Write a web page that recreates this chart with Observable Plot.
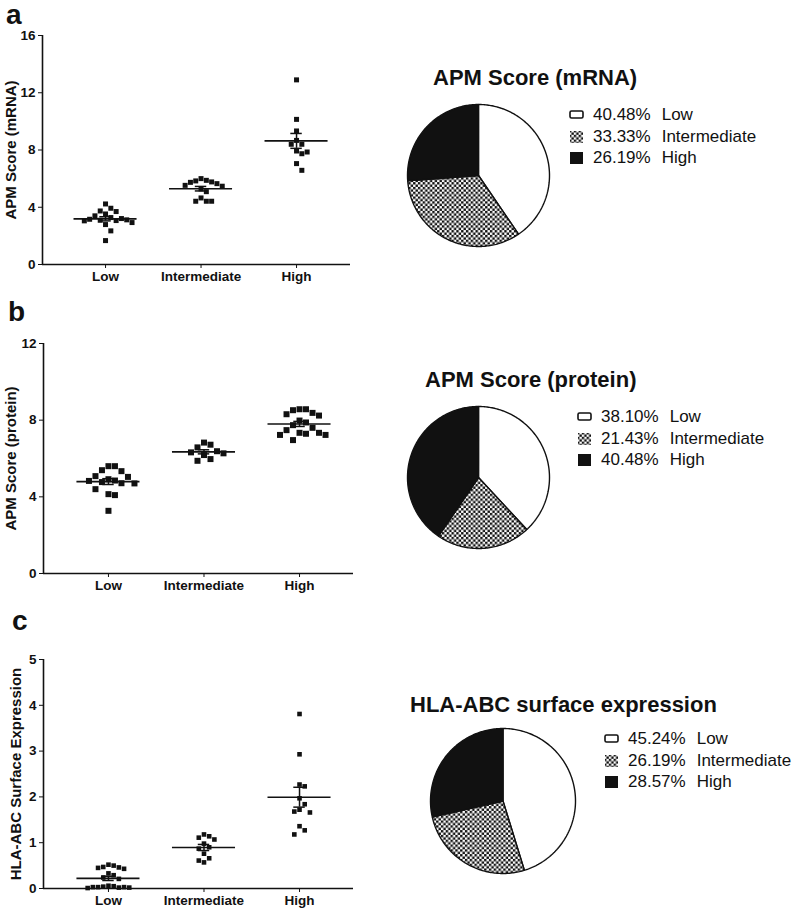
<!DOCTYPE html>
<html><head><meta charset="utf-8">
<script src="https://cdn.jsdelivr.net/npm/d3@7"></script>
<script src="https://cdn.jsdelivr.net/npm/@observablehq/plot@0.6"></script>
<style>
body{margin:0;background:#fff;}
#root{position:relative;width:800px;height:913px;overflow:hidden;font-family:'Liberation Sans',Arial,sans-serif;color:#111;}
.abs{position:absolute;}
.panel{font-weight:bold;font-size:28px;line-height:1;}
.ptitle{font-weight:bold;font-size:22px;line-height:1;white-space:nowrap;}
.leg{font-size:17px;white-space:nowrap;display:flex;align-items:center;height:21.5px;}
.leg .ic{width:24px;display:flex;align-items:center;}
.leg .lab{margin-left:11px;}
</style></head><body>
<svg width="0" height="0" style="position:absolute"><defs>
<pattern id="checker" patternUnits="userSpaceOnUse" width="4.8" height="4.8">
<rect width="4.8" height="4.8" fill="#fff"/><rect width="2.4" height="2.4" fill="#111"/><rect x="2.4" y="2.4" width="2.4" height="2.4" fill="#111"/>
</pattern></defs></svg>
<div id="root"></div>
<script>
// ---------- data ----------
const categories = ["Low", "Intermediate", "High"];

const mrnaLow  = [4.23, 3.93, 3.74, 3.70, 3.53, 3.40, 3.28, 3.21, 3.16, 3.12, 3.09, 3.07, 3.05, 2.93, 2.79, 2.35, 1.67];
const mrnaInt  = [6.00, 5.88, 5.84, 5.77, 5.74, 5.65, 5.53, 5.47, 5.28, 5.09, 4.65, 4.42, 4.42, 4.42];
const mrnaHigh = [12.90, 10.14, 9.33, 8.67, 8.40, 8.40, 7.93, 7.86, 7.74, 7.05, 6.58];

const protLow  = [5.60, 5.60, 5.39, 5.34, 5.08, 5.04, 4.92, 4.85, 4.83, 4.77, 4.71, 4.70, 4.40, 4.14, 4.09, 3.27];
const protInt  = [6.83, 6.72, 6.58, 6.38, 6.32, 6.27, 6.18, 5.97, 5.88];
const protHigh = [8.57, 8.57, 8.52, 8.38, 8.31, 8.24, 7.98, 7.88, 7.74, 7.60, 7.48, 7.34, 7.34, 7.29, 7.23, 7.23, 6.96];

const hlaLow  = [0.52, 0.50, 0.47, 0.46, 0.45, 0.43, 0.33, 0.29, 0.24, 0.21, 0.06, 0.05, 0.04, 0.03, 0.03, 0.03, 0.02, 0.02, 0.01];
const hlaInt  = [1.18, 1.14, 1.11, 1.07, 0.98, 0.90, 0.87, 0.76, 0.66, 0.61, 0.57];
const hlaHigh = [3.81, 2.93, 2.27, 2.23, 1.97, 1.84, 1.72, 1.68, 1.66, 1.36, 1.27, 1.18];

const mrnaTicks = [0, 4, 8, 12, 16];
const protTicks = [0, 4, 8, 12];
const hlaTicks  = [0, 1, 2, 3, 4, 5];

const mrnaPct = [40.48, 33.33, 26.19];
const protPct = [38.10, 21.43, 40.48];
const hlaPct  = [45.24, 26.19, 28.57];

const yLabels = ["APM Score (mRNA)", "APM Score (protein)", "HLA-ABC Surface Expression"];
const pieTitles = ["APM Score (mRNA)", "APM Score (protein)", "HLA-ABC surface expression"];
const panelLetters = ["a", "b", "c"];

// ---------- helpers ----------
const root = document.getElementById("root");
const sliceFills = ["#fff", "url(#checker)", "#111"];
const font = "'Liberation Sans', Arial, sans-serif";

function place(node, left, top) {
  const d = document.createElement("div");
  d.className = "abs";
  d.style.left = left + "px";
  d.style.top = top + "px";
  d.appendChild(node);
  root.appendChild(d);
  return d;
}

function swarm(vals, pxPerY, side, step, dyFactor) {
  const order = d3.range(vals.length).sort((a, b) => d3.descending(vals[a], vals[b]));
  const placed = [], off = new Array(vals.length);
  const dyMin = side * dyFactor;
  for (const i of order) {
    const py = vals[i] * pxPerY;
    for (let k = 0; ; k++) {
      const c = k === 0 ? 0 : (k % 2 ? 1 : -1) * Math.ceil(k / 2) * step;
      if (!placed.some(p => Math.abs(p.y - py) < dyMin && Math.abs(p.x - c) < step * 0.99)) {
        off[i] = c; placed.push({x: c, y: py}); break;
      }
    }
  }
  return off;
}

function scatter(groups, o) {
  const pxPerY = (o.height - o.mt - o.mb) / o.yMax;
  const pxPerX = (o.width - o.ml - o.mr) / (o.xDomain[1] - o.xDomain[0]);
  const pts = [], stats = [];
  groups.forEach((vals, ci) => {
    const off = swarm(vals, pxPerY, o.side, o.step, o.dy);
    vals.forEach((v, i) => pts.push({ci, v, xj: ci + off[i] / pxPerX}));
    const m = d3.mean(vals), s = d3.deviation(vals) / Math.sqrt(vals.length);
    stats.push({ci, m, lo: m - s, hi: m + s});
  });
  const r = o.side / Math.sqrt(Math.PI);
  const chart = Plot.plot({
    width: o.width, height: o.height,
    marginTop: o.mt, marginBottom: o.mb, marginLeft: o.ml, marginRight: o.mr,
    x: {domain: o.xDomain},
    y: {domain: [0, o.yMax]},
    style: {fontFamily: font, fontSize: "13.5px", fontWeight: "bold", color: "#111", background: "transparent", overflow: "visible"},
    marks: [
      Plot.dot(pts, {x: "xj", y: "v", symbol: "square", r, fill: "#111", stroke: "none"}),
      Plot.ruleY(stats, {y: "m", x1: d => d.ci - 0.33, x2: d => d.ci + 0.33, stroke: "#111", strokeWidth: 1.6}),
      Plot.ruleX(stats, {x: "ci", y1: "lo", y2: "hi", stroke: "#111", strokeWidth: 1.5}),
      Plot.ruleY(stats, {y: "hi", x1: d => d.ci - 0.06, x2: d => d.ci + 0.06, stroke: "#111", strokeWidth: 1.5}),
      Plot.ruleY(stats, {y: "lo", x1: d => d.ci - 0.06, x2: d => d.ci + 0.06, stroke: "#111", strokeWidth: 1.5}),
      Plot.ruleY([0], {stroke: "#111", strokeWidth: 1.6}),
      Plot.ruleX([o.xDomain[0]], {stroke: "#111", strokeWidth: 1.6}),
      Plot.axisY({ticks: o.ticks, tickFormat: d3.format("d"), tickSize: 4, tickPadding: 3, label: null}),
      Plot.text([o.label], {text: d => d, frameAnchor: "left", rotate: -90, dx: -o.labelDx, lineAnchor: "middle", textAnchor: "middle", fontSize: 15, fontWeight: "bold", fill: "#111"}),
      Plot.axisX({ticks: [0, 1, 2], tickFormat: i => categories[i], tickSize: 4, tickPadding: 3, label: null})
    ]
  });
  place(chart, o.left, o.top);
}

function pie(pcts, o) {
  const ends = d3.cumsum(pcts);
  const marks = pcts.map((p, i) => {
    const a0 = (ends[i] - p) / 100 * 2 * Math.PI, a1 = ends[i] / 100 * 2 * Math.PI;
    const n = Math.max(2, Math.ceil((a1 - a0) / (Math.PI / 180)));
    const poly = [{x: 0, y: 0}];
    for (let k = 0; k <= n; k++) {
      const a = a0 + (a1 - a0) * k / n;
      poly.push({x: Math.sin(a), y: Math.cos(a)});
    }
    poly.push({x: 0, y: 0});
    return Plot.line(poly, {x: "x", y: "y", fill: sliceFills[i], stroke: "#111", strokeWidth: 1.4, strokeLinejoin: "miter"});
  });
  const chart = Plot.plot({
    width: o.size, height: o.size, margin: 4,
    x: {domain: [-1, 1], axis: null},
    y: {domain: [-1, 1], axis: null},
    style: {background: "transparent", overflow: "visible"},
    marks
  });
  place(chart, o.cx - o.size / 2, o.cy - o.size / 2);
}

function text(cls, str, left, top) {
  const d = document.createElement("div");
  d.className = "abs " + cls;
  d.style.left = left + "px";
  d.style.top = top + "px";
  d.textContent = str;
  root.appendChild(d);
}

function iconSvg(i) {
  const ns = "http://www.w3.org/2000/svg";
  const s = document.createElementNS(ns, "svg");
  s.setAttribute("width", 15); s.setAttribute("height", 14);
  const r = document.createElementNS(ns, "rect");
  if (i === 0) { r.setAttribute("x", 1); r.setAttribute("y", 3); r.setAttribute("width", 13); r.setAttribute("height", 7); r.setAttribute("rx", 1.5); r.setAttribute("fill", "#fff"); r.setAttribute("stroke", "#111"); r.setAttribute("stroke-width", 1.6); }
  else { r.setAttribute("x", 1); r.setAttribute("y", 1); r.setAttribute("width", 13); r.setAttribute("height", 12); r.setAttribute("fill", sliceFills[i]); }
  s.appendChild(r);
  return s;
}

function legend(pcts, left, top) {
  pcts.forEach((p, i) => {
    const row = document.createElement("div");
    row.className = "abs leg";
    row.style.left = left + "px";
    row.style.top = (top + i * 21.5) + "px";
    const ic = document.createElement("span"); ic.className = "ic"; ic.appendChild(iconSvg(i));
    const pct = document.createElement("span"); pct.textContent = p.toFixed(2) + "%";
    const lab = document.createElement("span"); lab.className = "lab"; lab.textContent = categories[i];
    row.append(ic, pct, lab);
    root.appendChild(row);
  });
}

// ---------- panel a ----------
text("panel", panelLetters[0], 6, 1);
scatter([mrnaLow, mrnaInt, mrnaHigh], {left: 0, top: 0, width: 360, height: 294, mt: 35, mb: 30, ml: 42, mr: 10,
  xDomain: [-0.66, 2.565], yMax: 16, ticks: mrnaTicks, label: yLabels[0], labelDx: 31.5, side: 5, step: 5.3, dy: 1.8});
text("ptitle", pieTitles[0], 433, 67.4);
pie(mrnaPct, {cx: 478, cy: 175, size: 150});
legend(mrnaPct, 569, 104.5);

// ---------- panel b ----------
text("panel", panelLetters[1], 8, 297.5);
scatter([protLow, protInt, protHigh], {left: 0, top: 300, width: 360, height: 303, mt: 43, mb: 30, ml: 43, mr: 7,
  xDomain: [-0.68, 2.565], yMax: 12, ticks: protTicks, label: yLabels[1], labelDx: 32, side: 6, step: 6.5, dy: 1.8});
text("ptitle", pieTitles[1], 425, 369.4);
pie(protPct, {cx: 478, cy: 477, size: 150});
legend(protPct, 577, 406.5);

// ---------- panel c ----------
text("panel", panelLetters[2], 12, 606.5);
scatter([hlaLow, hlaInt, hlaHigh], {left: 0, top: 620, width: 360, height: 293, mt: 39, mb: 25, ml: 43, mr: 7,
  xDomain: [-0.68, 2.565], yMax: 5, ticks: hlaTicks, label: yLabels[2], labelDx: 27.5, side: 4.6, step: 5.2, dy: 1.8});
text("ptitle", pieTitles[2], 410, 694.4);
pie(hlaPct, {cx: 502, cy: 800, size: 153});
legend(hlaPct, 604, 728.5);
</script>
</body></html>
